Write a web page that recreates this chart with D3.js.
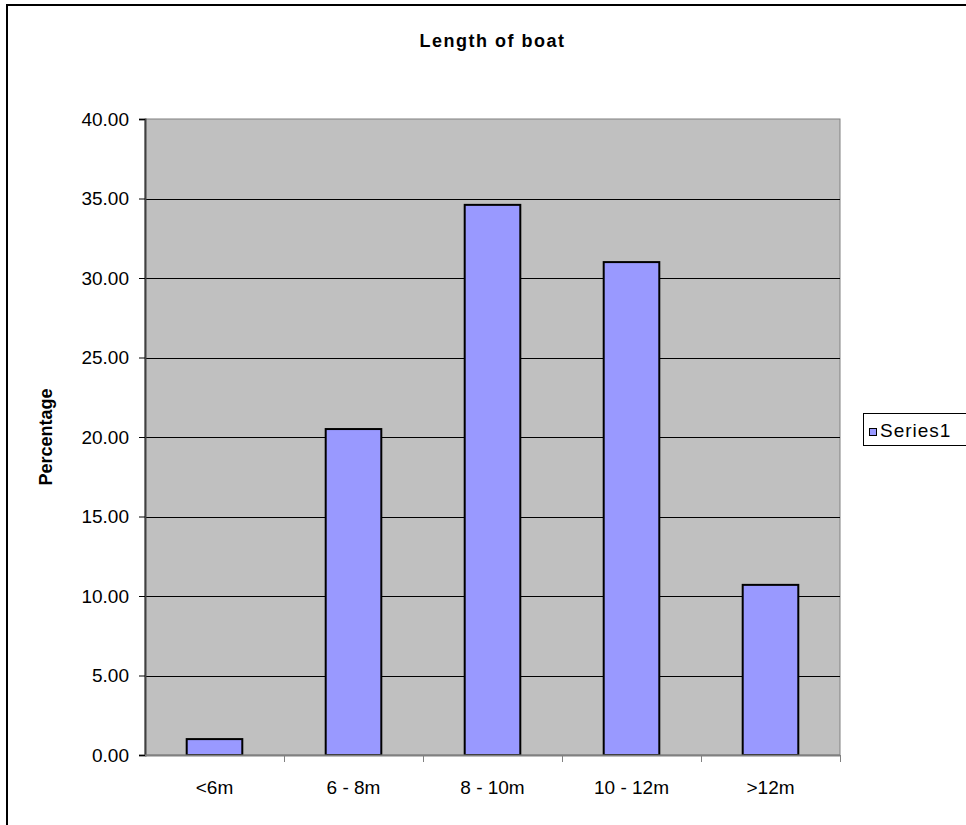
<!DOCTYPE html>
<html>
<head>
<meta charset="utf-8">
<script src="https://cdn.jsdelivr.net/npm/d3@7"></script>
<style>
  html, body { margin: 0; padding: 0; background: #fff; }
  svg { display: block; font-family: "Liberation Sans", Arial, sans-serif; }
</style>
</head>
<body>
<svg id="chart" width="966" height="825"></svg>
<script>
// Boat length distribution (percentage of boats per length class)
const categories = ["<6m", "6 - 8m", "8 - 10m", "10 - 12m", ">12m"];
const values = [1.0, 20.5, 34.6, 31.0, 10.7];
const yTicks = [0, 5, 10, 15, 20, 25, 30, 35, 40];
const seriesName = "Series1";
const titleText = "Length of boat";
const yTitleText = "Percentage";

const svg = d3.select("#chart");
const W = 966, H = 825;
const plot = { left: 145, top: 119, right: 840, bottom: 755 };

// outer chart frame
svg.append("rect")
  .attr("x", 7).attr("y", 5)
  .attr("width", W + 20).attr("height", H + 20)
  .attr("fill", "#fff").attr("stroke", "#000").attr("stroke-width", 2);

const x = d3.scaleBand().domain(categories).range([plot.left, plot.right]);
const y = d3.scaleLinear().domain([0, 40]).range([plot.bottom, plot.top]);

// plot area background
svg.append("rect")
  .attr("x", plot.left).attr("y", plot.top)
  .attr("width", plot.right - plot.left).attr("height", plot.bottom - plot.top)
  .attr("fill", "#c0c0c0").attr("stroke", "#808080").attr("stroke-width", 1);

// horizontal gridlines
svg.append("g")
  .selectAll("line")
  .data(yTicks.filter(t => t > 0 && t < 40))
  .join("line")
  .attr("x1", plot.left).attr("x2", plot.right)
  .attr("y1", d => Math.round(y(d)) + 0.5).attr("y2", d => Math.round(y(d)) + 0.5)
  .attr("stroke", "#000").attr("stroke-width", 1);

// bars
const barW = x.bandwidth() * 0.4;
svg.append("g")
  .selectAll("rect")
  .data(values)
  .join("rect")
  .attr("x", (d, i) => x(categories[i]) + (x.bandwidth() - barW) / 2)
  .attr("y", d => y(d))
  .attr("width", barW)
  .attr("height", d => y(0) - y(d))
  .attr("fill", "#9999ff")
  .attr("stroke", "#000")
  .attr("stroke-width", 2);

// y axis
const yAxis = d3.axisLeft(y).tickValues(yTicks).tickFormat(d3.format(".2f")).tickSize(6).tickPadding(10);
const gy = svg.append("g").attr("transform", `translate(${plot.left},0)`).call(yAxis);
gy.select(".domain").attr("stroke", "#404040").attr("stroke-width", 2);
gy.selectAll(".tick line").attr("stroke", "#000");
gy.selectAll(".tick text").attr("font-size", 19).attr("fill", "#000")
  .attr("font-family", "Liberation Sans, Arial, sans-serif");

// x axis with ticks at category boundaries
const gx = svg.append("g").attr("transform", `translate(0,${plot.bottom})`);
gx.append("line")
  .attr("x1", plot.left).attr("x2", plot.right)
  .attr("y1", 0.5).attr("y2", 0.5)
  .attr("stroke", "#808080").attr("stroke-width", 2);
const boundaries = categories.map(c => x(c)).concat([x(categories[categories.length - 1]) + x.bandwidth()]);
gx.selectAll("line.tk")
  .data(boundaries.slice(1))
  .join("line").attr("class", "tk")
  .attr("x1", d => Math.round(d) + 0.5).attr("x2", d => Math.round(d) + 0.5)
  .attr("y1", 0).attr("y2", 7)
  .attr("stroke", "#808080").attr("stroke-width", 1);
gx.selectAll("text")
  .data(categories)
  .join("text")
  .attr("x", d => x(d) + x.bandwidth() / 2)
  .attr("y", 39)
  .attr("text-anchor", "middle")
  .attr("font-size", 19)
  .attr("fill", "#000")
  .text(d => d);

// title
svg.append("text")
  .attr("x", (plot.left + plot.right) / 2).attr("y", 47)
  .attr("text-anchor", "middle")
  .attr("font-size", 18).attr("font-weight", "bold")
  .attr("letter-spacing", 1.5)
  .text(titleText);

// y axis title
svg.append("text")
  .attr("transform", `translate(52,${(plot.top + plot.bottom) / 2}) rotate(-90)`)
  .attr("text-anchor", "middle")
  .attr("font-size", 18).attr("font-weight", "bold")
  .text(yTitleText);

// legend
const lg = svg.append("g");
lg.append("rect")
  .attr("x", 863.5).attr("y", 413.5).attr("width", 120).attr("height", 32)
  .attr("fill", "#fff").attr("stroke", "#000").attr("stroke-width", 1);
lg.append("rect")
  .attr("x", 869.5).attr("y", 428.5).attr("width", 7).attr("height", 7)
  .attr("fill", "#9999ff").attr("stroke", "#000").attr("stroke-width", 1);
lg.append("text")
  .attr("x", 880).attr("y", 437)
  .attr("font-size", 19)
  .attr("letter-spacing", 1)
  .text(seriesName);
</script>
</body>
</html>
